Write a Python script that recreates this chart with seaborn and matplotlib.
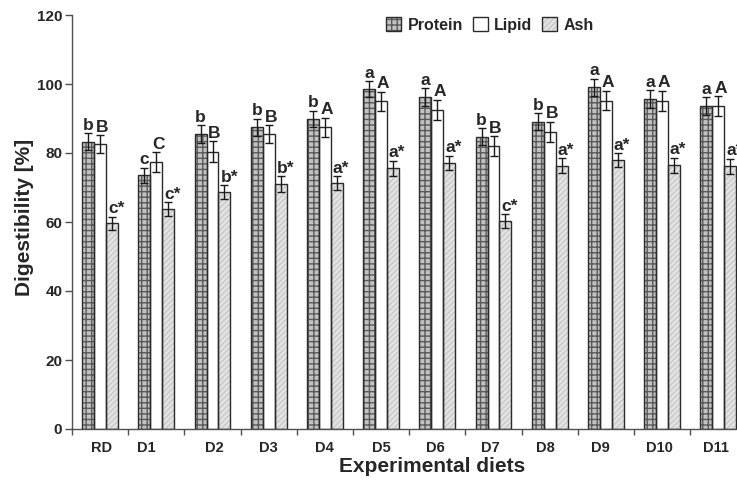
import matplotlib
matplotlib.use("Agg")
import matplotlib.pyplot as plt
from matplotlib.patches import Patch
import seaborn as sns
import pandas as pd
import numpy as np

# ---------------- data ----------------
diets = ["RD", "D1", "D2", "D3", "D4", "D5", "D6", "D7", "D8", "D9", "D10", "D11"]
components = ["Protein", "Lipid", "Ash"]

protein = [83.3, 73.5, 85.5, 87.4, 89.8, 98.5, 96.1, 84.7, 89.1, 99.0, 95.6, 93.6]
lipid = [82.6, 77.4, 80.4, 85.4, 87.4, 95.0, 92.5, 82.0, 86.2, 95.2, 95.2, 93.6]
ash = [59.6, 63.7, 68.7, 71.0, 71.2, 75.6, 77.2, 60.2, 76.3, 78.0, 76.4, 76.2]

protein_err = [2.4, 2.2, 2.6, 2.5, 2.4, 2.3, 2.6, 2.5, 2.4, 2.5, 2.6, 2.5]
lipid_err = [2.6, 2.8, 3.0, 2.6, 2.8, 2.8, 2.9, 2.8, 2.9, 2.8, 2.9, 2.9]
ash_err = [1.9, 2.0, 2.0, 2.2, 2.0, 2.2, 2.0, 2.0, 2.2, 2.0, 2.2, 2.2]

protein_letters = ["b", "c", "b", "b", "b", "a", "a", "b", "b", "a", "a", "a"]
lipid_letters = ["B", "C", "B", "B", "A", "A", "A", "B", "B", "A", "A", "A"]
ash_letters = ["c*", "c*", "b*", "b*", "a*", "a*", "a*", "c*", "a*", "a*", "a*", "a*"]

yticks = [0, 20, 40, 60, 80, 100, 120]

# ---------------- style ----------------
sns.set_style("ticks")
plt.rcParams["font.family"] = ["Liberation Sans", "DejaVu Sans"]
plt.rcParams["font.weight"] = "bold"
plt.rcParams["axes.labelweight"] = "bold"
plt.rcParams["hatch.linewidth"] = 1.0

face = {"Protein": "#c2c2c2", "Lipid": "#ffffff", "Ash": "#e3e3e3"}
hatch = {"Protein": "+++", "Lipid": "", "Ash": "//////"}
hatch_col = {"Protein": "#5a5a5a", "Lipid": "#ffffff", "Ash": "#c9c9c9"}
outline = "#2a2a2a"
axis_col = "#505050"

df = pd.DataFrame({
    "Diet": np.repeat(diets, 3),
    "Component": components * len(diets),
    "Value": np.ravel(np.column_stack([protein, lipid, ash])),
})
errs = {"Protein": protein_err, "Lipid": lipid_err, "Ash": ash_err}
letters = {"Protein": protein_letters, "Lipid": lipid_letters, "Ash": ash_letters}

fig = plt.figure(figsize=(7.37, 4.83), dpi=100)
ax = fig.add_axes([72 / 737, 54 / 483, 674.4 / 737, 414 / 483])

# filled + hatched bars
sns.barplot(data=df, x="Diet", y="Value", hue="Component", order=diets,
            hue_order=components, palette=face, errorbar=None, width=0.64,
            linewidth=0, legend=False, ax=ax, zorder=2)
for comp, cont in zip(components, ax.containers):
    for p in cont:
        p.set_hatch(hatch[comp])
        p.set_edgecolor(hatch_col[comp])
        p.set_linewidth(0)

# outlines
n_before = len(ax.containers)
sns.barplot(data=df, x="Diet", y="Value", hue="Component", order=diets,
            hue_order=components, palette={c: outline for c in components},
            fill=False, errorbar=None, width=0.64, linewidth=1.0,
            legend=False, ax=ax, zorder=3)

# error bars and letters
for comp, cont in zip(components, ax.containers[:n_before]):
    xs = [p.get_x() + p.get_width() / 2 for p in cont]
    vals = [p.get_height() for p in cont]
    ax.errorbar(xs, vals, yerr=errs[comp], fmt="none", ecolor="#1a1a1a",
                elinewidth=1.0, capsize=3, capthick=1.0, zorder=4)
    for x, v, e, lab in zip(xs, vals, errs[comp], letters[comp]):
        if comp == "Ash":
            ax.annotate(lab, xy=(x, v + e), xytext=(-3.0, 0.3),
                        textcoords="offset points", ha="left", va="bottom",
                        fontsize=12.5, fontweight="bold", zorder=5,
                        annotation_clip=False)
        else:
            dx = 0.0 if comp == "Protein" else 1.5
            ax.annotate(lab, xy=(x, v + e), xytext=(dx, 0.3),
                        textcoords="offset points", ha="center", va="bottom",
                        fontsize=12.5, fontweight="bold", zorder=5)

# axes
ax.set_xlim(-0.5, 11.5)
ax.set_ylim(0, 120)
ax.set_yticks(yticks)
ax.set_yticklabels([str(t) for t in yticks], fontsize=11, fontweight="bold")

label_shift = [0.03, -0.18, 0.03, 0.0, 0.0, 0.0, -0.04, -0.05, -0.07, -0.1, -0.04, -0.04]
ax.set_xticks(np.arange(len(diets)) - 0.5)
ax.set_xticklabels([])
ax.set_xticks(np.arange(len(diets)) + np.array(label_shift), minor=True)
ax.set_xticklabels(diets, minor=True, fontsize=10.5, fontweight="bold")
ax.tick_params(axis="x", which="minor", length=0, pad=8.5)
ax.tick_params(axis="x", which="major", length=4, width=1, color=axis_col)
ax.tick_params(axis="y", length=5, width=1, color=axis_col, pad=2)

ax.set_xlabel("Experimental diets", fontsize=15, fontweight="bold")
ax.set_ylabel("Digestibility [%]", fontsize=15, fontweight="bold")
ax.xaxis.set_label_coords(0.534, -0.067)
ax.yaxis.set_label_coords(-0.057, 0.511)

sns.despine(ax=ax)
for s in ("left", "bottom"):
    ax.spines[s].set_color(axis_col)
    ax.spines[s].set_linewidth(1.0)
ax.spines["bottom"].set_clip_on(False)

# legend
handles = []
for comp in components:
    h1 = Patch(facecolor=face[comp], hatch=hatch[comp], edgecolor=hatch_col[comp], linewidth=0)
    h2 = Patch(facecolor="none", edgecolor=outline, linewidth=1.0)
    handles.append((h1, h2))
fig.legend(handles, components, loc="center", bbox_to_anchor=(490 / 737, 1 - 25 / 483),
           ncol=3, frameon=False, handlelength=0.95, handleheight=0.95,
           handletextpad=0.4, columnspacing=0.6,
           prop={"weight": "bold", "size": 11.5})

fig.savefig("out.png", dpi=100)
